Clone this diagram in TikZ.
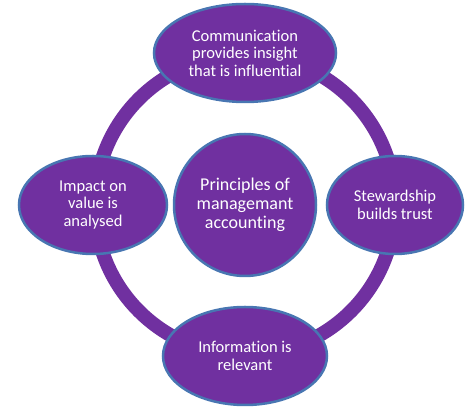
\documentclass[tikz,border=0pt]{standalone}
\usepackage{fontspec}
\setmainfont[Ligatures=NoCommon]{Carlito}
\usetikzlibrary{shapes.geometric}
\definecolor{ringpurple}{RGB}{112,48,160}
\definecolor{rimblue}{RGB}{72,118,178}

\begin{document}
\begin{tikzpicture}[x=1pt, y=-1pt,
  petal/.style={ellipse, draw=rimblue, line width=2.5pt, fill=ringpurple, text=white, align=center, inner sep=0pt, minimum height=98pt, font=\fontsize{16.5}{17.5}\selectfont},
  hub/.style={circle, draw=rimblue, line width=2.5pt, fill=ringpurple, text=white, align=center, inner sep=0pt, minimum size=142pt, font=\fontsize{18}{19}\selectfont},
  ringline/.style={draw=ringpurple, line width=14pt}
]
\useasboundingbox (0,0) rectangle (467,411);

\node[hub] (hub) at (245,205) {Principles of\\managemant\\accounting};

% the ring behind the outer ellipses
\draw[ringline] (hub.center) circle[radius=150pt];

\node[petal, minimum width=182pt] (comm) at (245,53) {Communication\\provides insight\\that is influential};
\node[petal, minimum width=148pt] (impact) at (93,205) {Impact on\\value is\\analysed};
\node[petal, minimum width=136pt] (steward) at (395,205) {Stewardship\\builds trust};
\node[petal, minimum width=164pt] (info) at (245,356) {Information is\\relevant};

\end{tikzpicture}
\end{document}
